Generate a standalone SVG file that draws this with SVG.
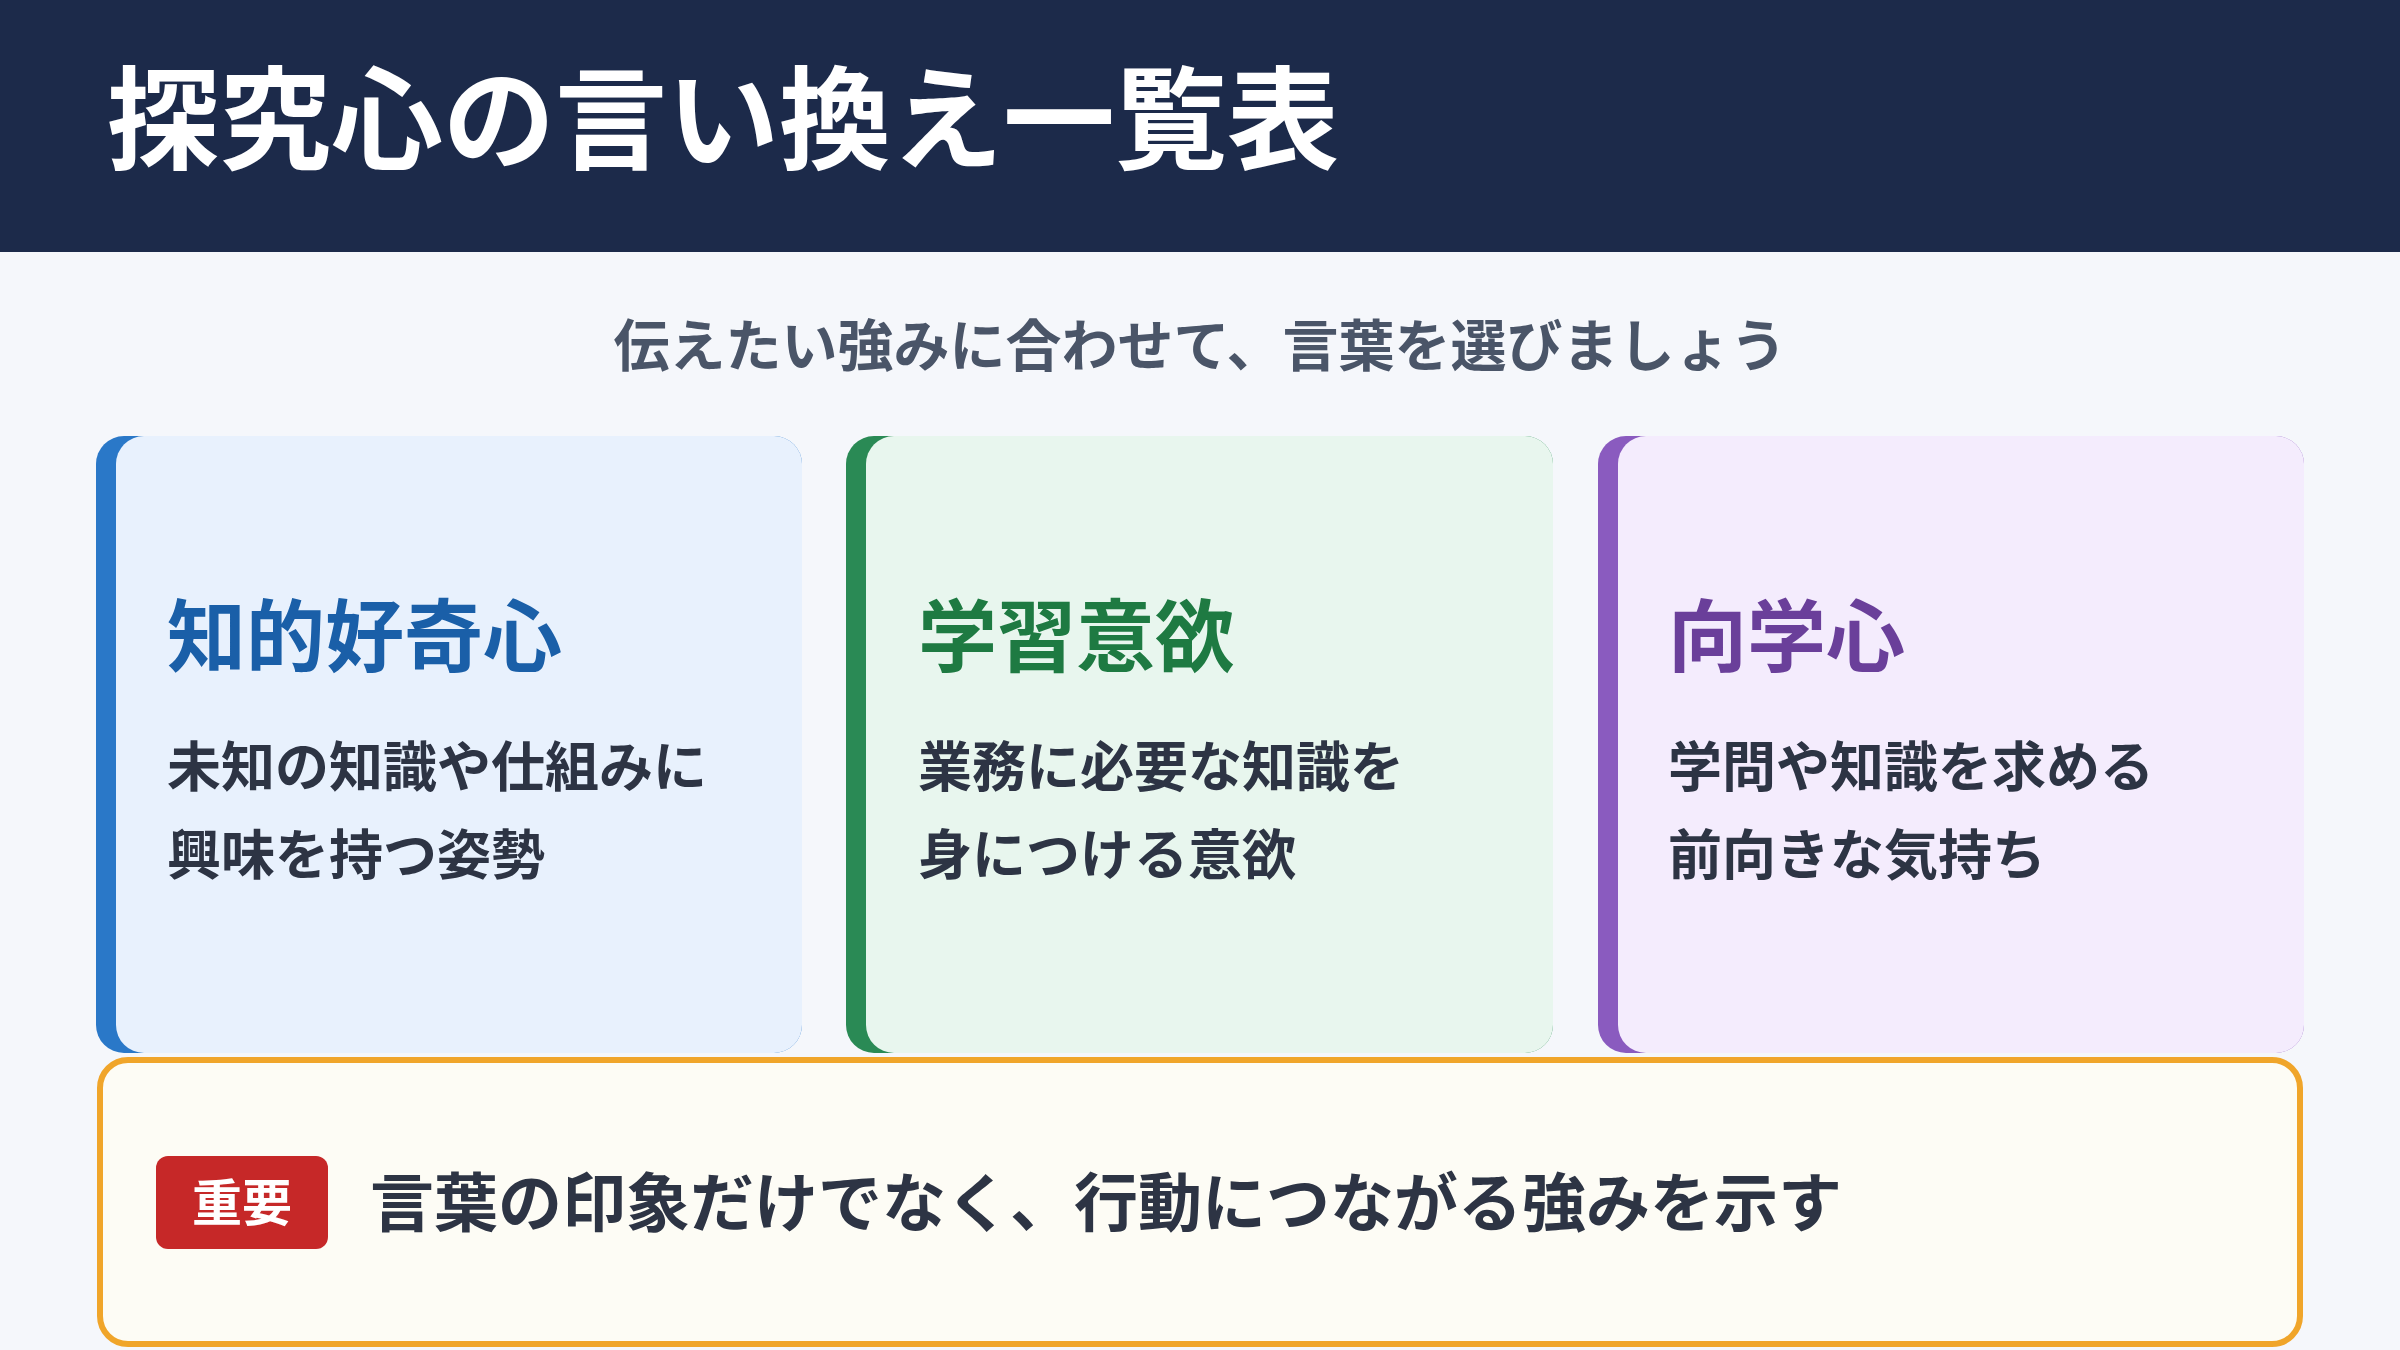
<svg xmlns="http://www.w3.org/2000/svg" width="2400" height="1350" viewBox="0 0 2400 1350">
<style>
text{font-family:"Noto Sans CJK JP","Noto Sans",sans-serif;font-weight:700}
.t{font-size:79px}
.b{font-size:54px;fill:#2d3444}
</style>
<rect width="2400" height="1350" fill="#f5f7fb"/>
<g id="header"><rect width="2400" height="252" fill="#1c2a4a"/>
<text x="107" y="161" font-size="112" fill="#ffffff">探究心の言い換え一覧表</text></g>
<text id="subtitle" x="1200" y="366" font-size="56" fill="#4a5568" text-anchor="middle">伝えたい強みに合わせて、言葉を選びましょう</text>
<g id="card1"><rect x="96" y="436" width="706" height="617" rx="28" fill="#2a78c8"/><rect x="116" y="436" width="686" height="617" rx="28" fill="#e8f1fd"/>
<text class="t" x="167" y="666" fill="#1a5fa8">知的好奇心</text>
<text class="b" x="167" y="787">未知の知識や仕組みに</text><text class="b" x="167" y="875">興味を持つ姿勢</text></g>
<g id="card2"><rect x="846" y="436" width="707" height="617" rx="28" fill="#2a8a55"/><rect x="866" y="436" width="687" height="617" rx="28" fill="#e8f6ee"/>
<text class="t" x="918" y="666" fill="#1e7a42">学習意欲</text>
<text class="b" x="918" y="787">業務に必要な知識を</text><text class="b" x="918" y="875">身につける意欲</text></g>
<g id="card3"><rect x="1598" y="436" width="706" height="617" rx="28" fill="#8a5bbf"/><rect x="1618" y="436" width="686" height="617" rx="28" fill="#f4ecfd"/>
<text class="t" x="1668" y="666" fill="#6a3f9a">向学心</text>
<text class="b" x="1668" y="787">学問や知識を求める</text><text class="b" x="1668" y="875">前向きな気持ち</text></g>
<g id="note"><rect x="100" y="1060" width="2200" height="284" rx="28" fill="#fdfcf5" stroke="#f0a52a" stroke-width="6"/>
<rect x="156" y="1156" width="172" height="93" rx="12" fill="#c62828"/>
<text x="242" y="1221" font-size="50" fill="#ffffff" text-anchor="middle">重要</text>
<text x="370" y="1226" font-size="64" fill="#2d3444">言葉の印象だけでなく、行動につながる強みを示す</text></g>
</svg>
